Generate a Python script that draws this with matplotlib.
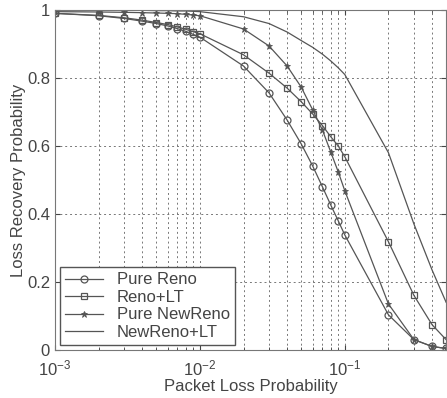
import matplotlib.pyplot as plt
import numpy as np

plt.rcParams['font.family'] = ['Liberation Sans', 'DejaVu Sans']

# packet loss probabilities where the curves were sampled
p_loss = [0.001, 0.002, 0.003, 0.004, 0.005, 0.006, 0.007, 0.008, 0.009,
          0.01, 0.02, 0.03, 0.04, 0.05, 0.06, 0.07, 0.08, 0.09,
          0.1, 0.2, 0.3, 0.4, 0.5]

pure_reno = [0.99, 0.983, 0.975, 0.967, 0.96, 0.953, 0.945, 0.937, 0.928,
             0.92, 0.835, 0.756, 0.676, 0.606, 0.541, 0.48, 0.426, 0.38,
             0.338, 0.103, 0.03, 0.01, 0.004]
reno_lt = [0.99, 0.984, 0.977, 0.97, 0.963, 0.957, 0.95, 0.943, 0.936,
           0.93, 0.868, 0.814, 0.77, 0.73, 0.694, 0.66, 0.627, 0.60,
           0.568, 0.318, 0.16, 0.074, 0.03]
pure_newreno = [0.995, 0.994, 0.993, 0.992, 0.991, 0.99, 0.989, 0.987, 0.985,
                0.983, 0.944, 0.894, 0.835, 0.773, 0.706, 0.647, 0.582, 0.524,
                0.468, 0.135, 0.03, 0.01, 0.004]
newreno_lt = [1.0, 1.0, 0.999, 0.999, 0.998, 0.998, 0.997, 0.997, 0.996,
              0.995, 0.98, 0.96, 0.935, 0.91, 0.89, 0.87, 0.85, 0.83,
              0.81, 0.58, 0.37, 0.235, 0.14]

col = '#555555'
fig = plt.figure(figsize=(4.47, 3.98), dpi=100)
ax = fig.add_axes([0.123, 0.121, 0.875, 0.854])

ax.plot(p_loss, pure_reno, color=col, lw=0.9, marker='o', ms=5, mfc='none', mew=0.9, label='Pure Reno')
ax.plot(p_loss, reno_lt, color=col, lw=0.9, marker='s', ms=5, mfc='none', mew=0.9, label='Reno+LT')
ax.plot(p_loss, pure_newreno, color=col, lw=0.9, marker='*', ms=5, mew=0.6, label='Pure NewReno')
ax.plot(p_loss, newreno_lt, color=col, lw=0.9, label='NewReno+LT')

ax.set_xscale('log')
ax.set_xlim(0.001, 0.5)
ax.set_ylim(0, 1)
ax.set_yticks([0, 0.2, 0.4, 0.6, 0.8, 1])
ax.set_yticklabels(['0', '0.2', '0.4', '0.6', '0.8', '1'])
ax.grid(True, which='both', axis='x', linestyle=(0, (2, 3)), color='#777777', lw=0.7)
ax.grid(True, which='major', axis='y', linestyle=(0, (2, 3)), color='#777777', lw=0.7)
ax.tick_params(which='both', direction='in', top=True, right=True, labelsize=12, colors='#444444')
ax.tick_params(axis='x', pad=6)
for s in ax.spines.values():
    s.set_color('#777777')

ax.set_xlabel('Packet Loss Probability', fontsize=12, color='#444444', labelpad=1)
ax.set_ylabel('Loss Recovery Probability', fontsize=12, color='#444444', labelpad=1)

leg = ax.legend(loc='lower left', fontsize=12, fancybox=False, framealpha=1,
                edgecolor='#555555', handlelength=2.3, borderaxespad=0.3, labelspacing=0.15,
                borderpad=0.3)
for t in leg.get_texts():
    t.set_color('#444444')

fig.savefig('out.png', dpi=100)
